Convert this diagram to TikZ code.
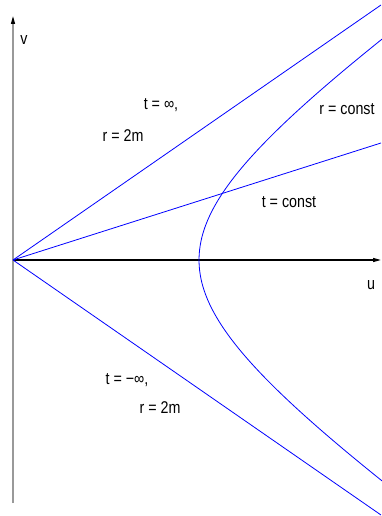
\documentclass[tikz,border=0pt]{standalone}
\usepackage{fontspec}
\setmainfont{Liberation Sans}[FakeStretch=0.84]
\usetikzlibrary{arrows.meta}
\tikzset{
  axis/.style={line width=1.2pt, -{Triangle[length=8pt,width=4pt,black]}},
  curve/.style={blue, line width=0.8pt},
  lbl/.style={inner sep=0pt, font=\fontsize{17}{19}\selectfont},
}
\begin{document}
\begin{tikzpicture}[x=1pt, y=1pt]
  \useasboundingbox (-13,-256) rectangle (368,260);
  \coordinate (O) at (0,0);
  \coordinate (vbot) at (0,-243);
  \coordinate (vtop) at (0,244);
  \coordinate (uend) at (368,0);
  \coordinate (tinf) at (368,255);
  \coordinate (tminf) at (368,-255);
  \coordinate (tconst) at (368,117);

  \draw[axis, gray!80] (vbot) -- (vtop);
  \draw[axis, black] (O) -- (uend);

  \draw[curve] (O) -- (tinf);
  \draw[curve] (O) -- (tminf);
  \draw[curve] (O) -- (tconst);
  \draw[curve] plot[domain=-1.32:1.32, samples=80, smooth]
    ({186*cosh(\x)}, {128.9*sinh(\x)});

  \node[lbl] (vlbl) at (11,220) {v};
  \node[lbl] (ulbl) at (358,-25) {u};
  \node[lbl] (tinflbl) at (148,155) {t = ∞,};
  \node[lbl] (rtop) at (110,124) {r = 2m};
  \node[lbl] (rconst) at (334,151) {r = const};
  \node[lbl] (tconstlbl) at (276,58) {t = const};
  \node[lbl] (tminflbl) at (114,-120) {t = −∞,};
  \node[lbl] (rbot) at (147,-148) {r = 2m};
\end{tikzpicture}
\end{document}
